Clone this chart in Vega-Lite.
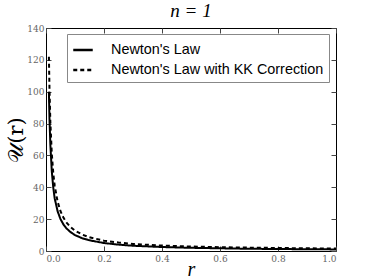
{
  "$schema": "https://vega.github.io/schema/vega-lite/v6.json",
  "width": 290,
  "height": 223,
  "autosize": {"type": "none"},
  "padding": {"left": 46, "top": 28, "right": 38, "bottom": 29},
  "background": "white",
  "config": {
    "view": {"stroke": "black", "strokeWidth": 1},
    "axis": {"grid": false, "labelFont": "DejaVu Serif", "labelFontSize": 9, "labelColor": "#666", "tickColor": "#444", "domain": false, "ticks": true, "titleFontWeight": "normal"}
  },
  "title": {"text": "n = 1", "font": "Liberation Serif", "fontStyle": "italic", "fontSize": 19, "fontWeight": "normal", "offset": 3, "color": "black"},
  "data": {"values": [
    {"r": 0.01, "U": 100, "s": "Newton's Law"},
    {"r": 0.012, "U": 83, "s": "Newton's Law"},
    {"r": 0.015, "U": 67, "s": "Newton's Law"},
    {"r": 0.02, "U": 50, "s": "Newton's Law"},
    {"r": 0.025, "U": 40, "s": "Newton's Law"},
    {"r": 0.03, "U": 33, "s": "Newton's Law"},
    {"r": 0.04, "U": 25, "s": "Newton's Law"},
    {"r": 0.05, "U": 20, "s": "Newton's Law"},
    {"r": 0.06, "U": 16.7, "s": "Newton's Law"},
    {"r": 0.07, "U": 14.3, "s": "Newton's Law"},
    {"r": 0.085, "U": 11.8, "s": "Newton's Law"},
    {"r": 0.1, "U": 10, "s": "Newton's Law"},
    {"r": 0.125, "U": 8, "s": "Newton's Law"},
    {"r": 0.15, "U": 6.7, "s": "Newton's Law"},
    {"r": 0.2, "U": 5, "s": "Newton's Law"},
    {"r": 0.25, "U": 4, "s": "Newton's Law"},
    {"r": 0.3, "U": 3.3, "s": "Newton's Law"},
    {"r": 0.4, "U": 2.5, "s": "Newton's Law"},
    {"r": 0.5, "U": 2, "s": "Newton's Law"},
    {"r": 0.6, "U": 1.7, "s": "Newton's Law"},
    {"r": 0.7, "U": 1.4, "s": "Newton's Law"},
    {"r": 0.8, "U": 1.25, "s": "Newton's Law"},
    {"r": 0.9, "U": 1.1, "s": "Newton's Law"},
    {"r": 1.0, "U": 1.0, "s": "Newton's Law"},
    {"r": 0.01, "U": 122, "s": "Newton's Law with KK Correction"},
    {"r": 0.012, "U": 102, "s": "Newton's Law with KK Correction"},
    {"r": 0.015, "U": 81, "s": "Newton's Law with KK Correction"},
    {"r": 0.02, "U": 61, "s": "Newton's Law with KK Correction"},
    {"r": 0.025, "U": 49, "s": "Newton's Law with KK Correction"},
    {"r": 0.03, "U": 41, "s": "Newton's Law with KK Correction"},
    {"r": 0.04, "U": 31, "s": "Newton's Law with KK Correction"},
    {"r": 0.05, "U": 25, "s": "Newton's Law with KK Correction"},
    {"r": 0.06, "U": 21, "s": "Newton's Law with KK Correction"},
    {"r": 0.07, "U": 18, "s": "Newton's Law with KK Correction"},
    {"r": 0.085, "U": 15, "s": "Newton's Law with KK Correction"},
    {"r": 0.1, "U": 12.8, "s": "Newton's Law with KK Correction"},
    {"r": 0.125, "U": 10.3, "s": "Newton's Law with KK Correction"},
    {"r": 0.15, "U": 8.6, "s": "Newton's Law with KK Correction"},
    {"r": 0.2, "U": 6.5, "s": "Newton's Law with KK Correction"},
    {"r": 0.25, "U": 5.3, "s": "Newton's Law with KK Correction"},
    {"r": 0.3, "U": 4.4, "s": "Newton's Law with KK Correction"},
    {"r": 0.4, "U": 3.4, "s": "Newton's Law with KK Correction"},
    {"r": 0.5, "U": 2.8, "s": "Newton's Law with KK Correction"},
    {"r": 0.6, "U": 2.4, "s": "Newton's Law with KK Correction"},
    {"r": 0.7, "U": 2.1, "s": "Newton's Law with KK Correction"},
    {"r": 0.8, "U": 1.9, "s": "Newton's Law with KK Correction"},
    {"r": 0.9, "U": 1.7, "s": "Newton's Law with KK Correction"},
    {"r": 1.0, "U": 1.5, "s": "Newton's Law with KK Correction"}
  ]},
  "layer": [
    {
      "mark": {"type": "line", "color": "black", "strokeWidth": 2, "clip": true},
      "encoding": {
        "x": {"field": "r", "type": "quantitative", "scale": {"domain": [0, 1], "nice": false},
          "axis": {"orient": "bottom", "values": [0, 0.2, 0.4, 0.6, 0.8, 1.0], "format": ".1f", "tickSize": -5, "labelPadding": 8, "title": "r", "titleFont": "Liberation Serif", "titleFontStyle": "italic", "titleFontSize": 20, "titlePadding": -4, "titleColor": "black"}},
        "y": {"field": "U", "type": "quantitative", "scale": {"domain": [0, 140], "nice": false},
          "axis": {"orient": "left", "values": [0, 20, 40, 60, 80, 100, 120, 140], "tickSize": -5, "labelPadding": 7, "title": "𝒰(r)", "titleFont": "DejaVu Serif", "titleFontSize": 21, "titlePadding": 0, "titleColor": "black"}},
        "strokeDash": {"field": "s", "type": "nominal",
          "scale": {"domain": ["Newton's Law", "Newton's Law with KK Correction"], "range": [[1, 0], [4, 3]]},
          "legend": {"title": null, "orient": "none", "legendX": 21, "legendY": 6, "symbolType": "stroke", "symbolStrokeColor": "black", "symbolStrokeWidth": 2.5, "symbolSize": 380, "labelFont": "Liberation Sans", "labelFontSize": 14.4, "labelColor": "black", "labelOffset": 17, "labelLimit": 0, "rowPadding": 2, "padding": 5, "strokeColor": "#888", "fillColor": "white", "cornerRadius": 0}}
      }
    },
    {
      "mark": {"type": "line", "opacity": 0},
      "encoding": {
        "x": {"field": "r", "type": "quantitative", "axis": {"orient": "top", "values": [0, 0.2, 0.4, 0.6, 0.8, 1.0], "labels": false, "tickSize": -5, "title": null}},
        "y": {"field": "U", "type": "quantitative", "axis": {"orient": "right", "values": [0, 20, 40, 60, 80, 100, 120, 140], "labels": false, "tickSize": -5, "title": null}}
      }
    }
  ],
  "resolve": {"axis": {"x": "independent", "y": "independent"}}
}
